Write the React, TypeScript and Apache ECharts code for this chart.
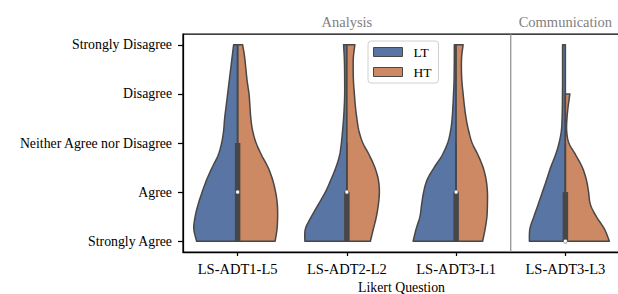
import React, { useEffect, useRef } from "react";
import * as echarts from "echarts";

// ---- data ----
const questions = ["LS-ADT1-L5", "LS-ADT2-L2", "LS-ADT3-L1", "LS-ADT3-L3"];
const likertLabels = [
  "Strongly Agree",
  "Agree",
  "Neither Agree nor Disagree",
  "Disagree",
  "Strongly Disagree",
];
const groupNames = ["LT", "HT"];
// response levels at which the kernel density was read (0 = Strongly Agree ... 4 = Strongly Disagree)
const levels = [0, 0.25, 0.5, 0.75, 1, 1.25, 1.5, 1.75, 2, 2.25, 2.5, 2.75, 3, 3.25, 3.5, 3.75, 4];
// density (violin half-width) per question, LT group
const densityLT = [
  [41, 43.8, 42.5, 39.5, 35.5, 31, 25.5, 19.5, 16, 14, 13, 11.5, 10, 8.5, 7, 5.5, 4],
  [42, 41.5, 35.5, 28.5, 21.5, 16, 11, 7.3, 5.5, 4.3, 3.3, 2.6, 2.2, 2.2, 2.3, 2.6, 3.3],
  [43, 40, 36.2, 34.5, 32.5, 29, 22, 14, 8.5, 5.5, 4, 3.2, 2.6, 2.1, 1.9, 1.8, 1.8],
  [36, 35.5, 31.5, 27.2, 23, 18.8, 14.8, 10, 6.3, 4, 3.3, 3, 2.9, 2.8, 2.8, 2.8, 2.8],
];
// density (violin half-width) per question, HT group
const densityHT = [
  [37.5, 39.4, 40, 39.7, 38, 35, 30.5, 24, 18.5, 15, 13.2, 12.3, 11.4, 9.6, 8.3, 7, 5],
  [23.5, 26.5, 29.5, 31.5, 32.5, 31.5, 28, 22.5, 16, 12, 10, 8.5, 7.5, 6.6, 6.3, 6.5, 8],
  [26.5, 29, 30.8, 31.3, 31.3, 30, 27, 22, 16, 12.5, 10, 8.3, 7, 5.8, 5.3, 5.5, 7],
  [44, 39, 31, 25, 23.2, 21, 17, 10.5, 3.5, 1.3, 1.6, 2.8, 4.5, null, null, null, null],
];
// inner box statistics (combined groups)
const boxQ1 = [0, 0, 0, 0];
const boxMedian = [1, 1, 1, 0];
const boxQ3 = [2, 1, 1, 1];
const whiskerLow = [0, 0, 0, 0];
const whiskerHigh = [4, 2, 2, 2];
// section headers (centred over a question index) and dividers
const sectionNames = ["Analysis", "Communication"];
const sectionCenters = [1, 3];
const sectionDividers = [2.5];

// ---- styling ----
const COLORS = ["#5975a4", "#cc8963"];
const EDGE = "#474747";
const FONT = "'Liberation Serif', 'Times New Roman', serif";
const Y_MIN = -0.22;
const Y_MAX = 4.22;
const DENSITY_REF = 109.25; // density units per category width

function catmull(pts: number[][], steps: number) {
  if (pts.length < 3) return pts.slice();
  const out: number[][] = [];
  for (let i = 0; i < pts.length - 1; i++) {
    const p0 = pts[Math.max(0, i - 1)];
    const p1 = pts[i];
    const p2 = pts[i + 1];
    const p3 = pts[Math.min(pts.length - 1, i + 2)];
    for (let s = 0; s < steps; s++) {
      const t = s / steps;
      const t2 = t * t;
      const t3 = t2 * t;
      const f = (a: number, b: number, c: number, d: number) =>
        0.5 * (2 * b + (-a + c) * t + (2 * a - 5 * b + 4 * c - d) * t2 + (-a + 3 * b - 3 * c + d) * t3);
      out.push([f(p0[0], p1[0], p2[0], p3[0]), f(p0[1], p1[1], p2[1], p3[1])]);
    }
  }
  out.push(pts[pts.length - 1]);
  return out;
}

function violinSeries(gi: number) {
  const dens = gi === 0 ? densityLT : densityHT;
  const sign = gi === 0 ? -1 : 1;
  return {
    type: "custom",
    name: groupNames[gi],
    itemStyle: { color: COLORS[gi], borderColor: EDGE, borderWidth: 1 },
    data: questions.map((_, i) => [i]),
    renderItem: (params: any, api: any) => {
      const q = api.value(0);
      const d = dens[q];
      const band = api.size([1, 0])[0];
      const edge: number[][] = [];
      let lo = -1;
      let hi = -1;
      levels.forEach((lv, k) => {
        const v = d[k];
        if (v === null || v === undefined) return;
        if (lo < 0) lo = k;
        hi = k;
        const c = api.coord([q, lv]);
        edge.push([c[0] + (sign * v * band) / DENSITY_REF, c[1]]);
      });
      const smooth = catmull(edge, 8);
      const cBot = api.coord([q, levels[lo]]);
      const cTop = api.coord([q, levels[hi]]);
      const points = [[cBot[0], cBot[1]], ...smooth, [cTop[0], cTop[1]]];
      return {
        type: "polygon",
        shape: { points },
        style: { fill: COLORS[gi], stroke: EDGE, lineWidth: 1.5, lineJoin: "round" },
      };
    },
  };
}

export default function App() {
  const ref = useRef<HTMLDivElement>(null);
  useEffect(() => {
    if (!ref.current) return;
    const chart = echarts.init(ref.current, null, { renderer: "svg", width: 618, height: 294 });
    const axisLineStyle = { color: "#000", width: 1.25 };
    chart.setOption({
      animation: false,
      backgroundColor: "#fff",
      grid: {
        left: 183,
        top: 34,
        right: -2,
        bottom: 42,
        show: true,
        containLabel: false,
        outerBoundsMode: "none",
        borderColor: "#000",
        borderWidth: 1.25,
        backgroundColor: "transparent",
      },
      legend: {
        data: groupNames,
        orient: "vertical",
        left: 368,
        top: 41,
        itemWidth: 29,
        itemHeight: 9,
        itemGap: 6,
        padding: [4, 7, 4, 5],
        icon: "rect",
        backgroundColor: "rgba(255,255,255,0.85)",
        borderColor: "#d0d0d0",
        borderWidth: 1,
        borderRadius: 3,
        itemStyle: { borderColor: EDGE, borderWidth: 1 },
        textStyle: { fontFamily: FONT, fontSize: 13.5, color: "#000", padding: [0, 0, 0, 6] },
      },
      xAxis: {
        type: "value",
        min: -0.5,
        max: 3.5,
        splitLine: { show: false },
        axisLine: { show: true, onZero: false, lineStyle: axisLineStyle },
        axisTick: { show: true, length: 4, customValues: [0, 1, 2, 3], lineStyle: axisLineStyle },
        axisLabel: {
          customValues: [0, 1, 2, 3],
          formatter: (v: number) => questions[Math.round(v)] ?? "",
          margin: 9,
          fontFamily: FONT,
          fontSize: 14.5,
          color: "#000",
        },
        name: "Likert Question",
        nameLocation: "middle",
        nameGap: 28,
        nameTextStyle: { fontFamily: FONT, fontSize: 13.8, color: "#000" },
      },
      yAxis: {
        type: "value",
        min: Y_MIN,
        max: Y_MAX,
        splitLine: { show: false },
        axisLine: { show: true, onZero: false, lineStyle: axisLineStyle },
        axisTick: { show: true, length: 5, customValues: [0, 1, 2, 3, 4], lineStyle: axisLineStyle },
        axisLabel: {
          customValues: [0, 1, 2, 3, 4],
          formatter: (v: number) => likertLabels[Math.round(v)] ?? "",
          margin: 11,
          fontFamily: FONT,
          fontSize: 13.8,
          color: "#000",
        },
      },
      series: [
        violinSeries(0),
        violinSeries(1),
        {
          type: "custom",
          name: "box",
          z: 5,
          data: questions.map((_, i) => [i]),
          renderItem: (params: any, api: any) => {
            const q = api.value(0);
            const wl = api.coord([q, whiskerLow[q]]);
            const wh = api.coord([q, whiskerHigh[q]]);
            const b1 = api.coord([q, boxQ1[q]]);
            const b3 = api.coord([q, boxQ3[q]]);
            const m = api.coord([q, boxMedian[q]]);
            return {
              type: "group",
              children: [
                {
                  type: "line",
                  shape: { x1: wl[0], y1: wl[1], x2: wh[0], y2: wh[1] },
                  style: { stroke: EDGE, lineWidth: 1.5 },
                },
                {
                  type: "line",
                  shape: { x1: b1[0], y1: b1[1], x2: b3[0], y2: b3[1] },
                  style: { stroke: EDGE, lineWidth: 5.5, lineCap: "butt" },
                },
                {
                  type: "circle",
                  shape: { cx: m[0], cy: m[1], r: 2 },
                  style: { fill: "#fff", stroke: EDGE, lineWidth: 0.6 },
                },
              ],
            };
          },
        },
        {
          type: "custom",
          name: "dividers",
          clip: false,
          z: 1,
          data: sectionDividers.map((x) => [x]),
          renderItem: (params: any, api: any) => {
            const x = api.value(0);
            const a = api.coord([x, Y_MIN]);
            const b = api.coord([x, Y_MAX]);
            return {
              type: "line",
              shape: { x1: a[0], y1: a[1], x2: b[0], y2: b[1] },
              style: { stroke: "#8c8c8c", lineWidth: 1.2 },
            };
          },
        },
        {
          type: "custom",
          name: "sections",
          clip: false,
          z: 1,
          data: sectionCenters.map((c, i) => [c, i]),
          renderItem: (params: any, api: any) => {
            const c = api.value(0);
            const i = api.value(1);
            const p = api.coord([c, Y_MAX]);
            return {
              type: "text",
              x: p[0],
              y: p[1] - 12,
              style: {
                text: sectionNames[i],
                fill: "#808080",
                font: `14.5px ${FONT}`,
                align: "center",
                verticalAlign: "middle",
              },
            };
          },
        },
      ],
    });
    return () => chart.dispose();
  }, []);
  return (
    <div
      ref={ref}
      style={{ position: "fixed", left: 0, top: 0, width: 618, height: 294, background: "#fff" }}
    />
  );
}
